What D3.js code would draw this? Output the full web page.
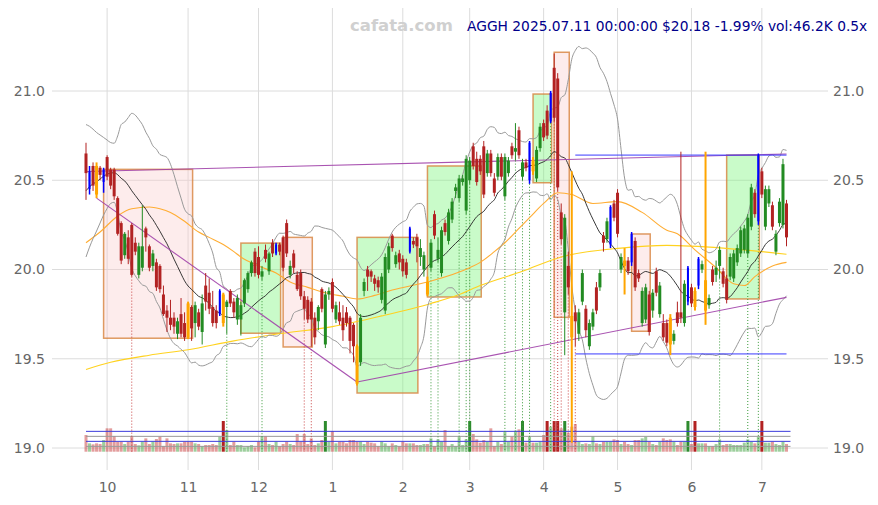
<!DOCTYPE html>
<html><head><meta charset="utf-8">
<script src="https://cdn.jsdelivr.net/npm/d3@7"></script>
<style>body{margin:0;background:#fff}svg{display:block}</style>
</head><body>
<svg id="c" width="878" height="505"></svg>
<script>
// ---------------- DATA ----------------
const startDate = "2024-09-23";
const holidays = ["2024-11-28","2024-12-25","2025-01-01","2025-01-09","2025-01-20","2025-02-17","2025-04-18","2025-05-26","2025-06-19","2025-07-04"];
const monthLabels = ["10","11","12","1","2","3","4","5","6","7"];
const priceTicks = [19.0, 19.5, 20.0, 20.5, 21.0];

const open = [
20.65,20.45,20.58,20.58,20.57,20.49,20.63,20.56,20.56,20.40,
20.26,20.08,20.18,20.25,20.15,19.97,20.01,20.23,20.13,20.02,
20.04,20.02,19.86,19.77,19.73,19.73,19.64,19.75,19.70,19.81,
19.79,19.70,19.76,19.65,19.91,19.87,19.79,19.77,19.75,19.86,
19.79,19.88,19.82,19.72,19.72,19.81,19.89,19.98,20.10,20.07,
19.96,20.11,19.99,20.15,20.09,20.14,20.18,20.26,19.97,20.09,
19.97,19.98,19.85,19.83,19.82,19.73,19.71,19.89,19.58,19.86,
19.93,19.72,19.76,19.73,19.76,19.73,19.69,19.57,19.48,19.88,
20.00,19.99,19.95,19.94,19.83,19.77,20.00,20.19,20.03,20.09,
20.06,20.04,20.10,20.16,20.18,20.07,20.00,19.93,20.01,20.31,
20.06,19.98,20.26,20.16,20.28,20.44,20.40,20.49,20.33,20.50,
20.69,20.62,20.62,20.69,20.54,20.65,20.51,20.52,20.63,20.41,
20.54,20.69,20.66,20.78,20.52,20.60,20.50,20.61,20.51,20.68,
20.82,20.89,20.83,21.13,21.07,20.32,19.76,20.02,19.74,19.76,
19.64,19.82,19.78,19.57,19.68,19.90,19.90,20.19,20.17,20.14,
20.37,20.43,20.00,20.05,20.05,20.04,20.16,19.98,19.70,19.72,
19.86,19.77,19.99,19.75,19.70,19.70,19.73,19.60,19.76,19.76,
19.70,19.82,19.90,19.88,19.91,20.00,19.94,19.80,20.00,19.97,
20.02,19.99,19.95,19.96,19.95,20.04,20.09,20.11,20.09,20.24,
20.43,20.27,20.55,20.24,20.37,20.36,20.10,20.26,20.25,20.37];
const high = [
20.71,20.58,20.60,20.60,20.58,20.57,20.64,20.57,20.57,20.41,
20.27,20.21,20.22,20.26,20.18,20.15,20.36,20.24,20.14,20.11,
20.06,20.03,19.91,19.80,19.83,19.76,19.73,19.84,19.76,19.82,
19.80,19.82,19.78,19.86,19.98,19.95,19.88,19.80,19.89,19.87,
19.83,19.89,19.84,19.86,19.82,19.95,19.99,20.05,20.12,20.13,
20.02,20.14,20.10,20.17,20.15,20.15,20.19,20.28,20.05,20.11,
19.99,20.00,19.88,19.85,19.84,19.76,19.80,19.90,19.88,19.90,
19.95,19.82,19.82,19.80,19.79,19.74,19.70,19.58,19.75,19.95,
20.02,20.00,19.97,19.96,19.98,20.09,20.15,20.20,20.10,20.11,
20.08,20.06,20.24,20.18,20.20,20.17,20.10,19.96,20.17,20.33,
20.18,20.24,20.28,20.34,20.40,20.48,20.53,20.53,20.64,20.63,
20.71,20.66,20.64,20.72,20.67,20.67,20.54,20.65,20.65,20.65,
20.63,20.71,20.82,20.80,20.62,20.62,20.72,20.63,20.69,20.82,
20.84,20.92,21.00,21.21,21.10,20.37,20.31,20.10,20.55,19.80,
19.78,20.00,19.80,19.72,19.78,19.93,20.00,20.21,20.29,20.36,
20.39,20.45,20.09,20.12,20.07,20.21,20.18,20.00,19.90,19.92,
19.88,19.89,20.01,19.93,19.75,19.72,19.75,19.66,19.82,20.66,
19.94,20.02,19.92,19.90,20.07,20.05,20.66,19.86,20.02,20.05,
20.13,20.01,19.97,20.09,20.11,20.14,20.24,20.25,20.31,20.48,
20.45,20.65,20.57,20.47,20.47,20.38,20.22,20.40,20.62,20.39];
const low = [
20.39,20.42,20.44,20.40,20.50,20.43,20.50,20.45,20.39,20.19,
20.03,20.06,20.03,19.96,20.08,19.95,19.99,20.10,19.99,19.99,
19.88,19.87,19.74,19.65,19.66,19.64,19.61,19.62,19.60,19.61,
19.60,19.62,19.66,19.58,19.77,19.75,19.68,19.67,19.74,19.68,
19.64,19.79,19.73,19.69,19.63,19.79,19.87,19.96,19.96,19.95,
19.94,20.04,19.97,20.07,20.08,20.08,19.99,20.07,19.95,19.98,
19.88,19.83,19.72,19.70,19.57,19.58,19.66,19.76,19.56,19.83,
19.76,19.70,19.69,19.60,19.68,19.53,19.48,19.35,19.46,19.85,
19.88,19.93,19.88,19.87,19.81,19.75,19.98,20.10,20.01,20.00,
19.96,19.95,20.09,20.12,20.04,20.02,19.96,19.85,19.99,20.17,
20.04,19.96,20.19,20.14,20.26,20.40,20.38,20.47,20.31,20.48,
20.56,20.47,20.53,20.40,20.52,20.52,20.41,20.50,20.50,20.39,
20.52,20.62,20.61,20.62,20.50,20.55,20.48,20.53,20.49,20.66,
20.72,20.73,20.82,20.83,20.44,20.14,19.52,19.86,19.03,19.57,
19.60,19.80,19.62,19.55,19.66,19.75,19.88,20.10,20.15,20.12,
20.27,20.18,19.98,19.86,19.97,20.02,19.88,19.93,19.68,19.70,
19.63,19.73,19.85,19.73,19.60,19.57,19.52,19.58,19.68,19.70,
19.68,19.80,19.79,19.77,19.89,19.98,19.69,19.78,19.91,19.93,
19.95,19.90,19.81,19.94,19.93,20.02,20.07,20.09,20.07,20.22,
20.29,20.25,20.40,20.22,20.35,20.22,20.08,20.24,20.23,20.13];
const close = [
20.54,20.55,20.47,20.42,20.53,20.56,20.52,20.47,20.41,20.20,
20.05,20.20,20.06,19.97,20.10,20.13,20.13,20.18,20.01,20.09,
19.90,19.89,19.75,19.73,19.69,19.68,19.71,19.64,19.62,19.62,
19.67,19.80,19.68,19.81,19.82,19.78,19.70,19.70,19.88,19.70,
19.82,19.81,19.76,19.84,19.80,19.94,19.98,20.04,19.98,19.97,
19.99,20.06,20.09,20.09,20.14,20.10,20.01,20.09,20.02,20.01,
19.89,19.85,19.78,19.72,19.72,19.62,19.79,19.78,19.86,19.88,
19.78,19.80,19.71,19.66,19.70,19.60,19.57,19.36,19.73,19.93,
19.96,19.96,19.92,19.90,19.96,20.07,20.13,20.12,20.08,20.04,
19.99,19.97,20.23,20.14,20.13,20.12,20.08,19.86,20.15,20.19,
20.11,20.22,20.21,20.32,20.38,20.46,20.51,20.51,20.62,20.61,
20.58,20.49,20.55,20.42,20.65,20.54,20.43,20.63,20.52,20.63,
20.61,20.64,20.68,20.64,20.60,20.57,20.71,20.55,20.67,20.80,
20.74,20.75,20.99,20.85,20.46,20.17,20.29,19.90,19.62,19.71,
19.76,19.98,19.66,19.70,19.76,19.77,19.98,20.15,20.27,20.35,
20.29,20.20,20.07,20.02,19.99,20.20,19.90,19.95,19.88,19.90,
19.65,19.87,19.87,19.91,19.62,19.59,19.58,19.64,19.70,19.73,
19.92,20.01,19.81,19.79,20.06,20.03,19.77,19.84,19.93,20.01,
20.11,19.92,19.83,20.07,20.09,20.12,20.22,20.23,20.29,20.46,
20.31,20.64,20.42,20.45,20.45,20.24,20.20,20.38,20.59,20.18];
// volume in thousands
const volume = [
100,50,44,50,46,70,140,140,94,60,
60,46,60,94,46,38,60,80,46,60,
76,90,34,80,50,46,50,50,60,60,
60,50,46,34,40,40,46,40,90,230,
130,40,60,40,40,26,34,40,26,60,
94,94,46,40,60,34,46,60,46,40,
106,60,106,46,80,40,50,70,250,60,
124,50,60,60,50,70,70,60,60,46,
60,54,50,34,60,50,34,50,40,34,
60,50,50,50,40,40,46,46,80,34,
74,60,130,34,46,34,90,40,74,215,
106,74,54,70,60,140,34,60,46,120,
60,90,126,134,240,54,90,54,54,60,
100,220,150,260,310,140,280,114,150,166,
60,46,50,46,94,50,46,60,60,60,
74,70,46,60,46,40,70,70,80,90,
60,46,40,60,80,70,74,60,40,60,
60,200,46,230,50,50,50,34,34,46,
74,40,46,46,40,40,40,54,74,60,
50,90,210,54,54,60,46,40,60,46.2];
// closes of the 19 sessions before the first bar (for the 20-day band)
const priorClose = [20.10,20.15,20.18,20.22,20.25,20.30,20.33,20.38,20.42,20.45,20.50,20.55,20.58,20.62,20.66,20.64,20.68,20.65,20.62];
// 50-day and 200-day averages [bar index, value]
const ma50 = [[0,20.15],[4,20.21],[9,20.30],[13,20.34],[18,20.35],[21,20.34],[24,20.32],[28,20.27],[32,20.21],[35,20.18],[39,20.14],[42,20.10],[44,20.07],[49,20.02],[54,19.98],[58,19.93],[63,19.90],[68,19.87],[73,19.85],[77,19.835],[82,19.855],[87,19.885],[97,19.93],[109,20.01],[112,20.04],[116,20.10],[119,20.15],[123,20.23],[126,20.29],[130,20.37],[134,20.43],[138,20.42],[144,20.37],[151,20.38],[158,20.32],[165,20.22],[168,20.20],[173,20.11],[179,20.01],[184,19.92],[187,19.91],[190,19.96],[195,20.02],[199,20.04]];
const ma200 = [[0,19.44],[7,19.48],[18,19.52],[29,19.55],[42,19.60],[55,19.64],[70,19.68],[84,19.74],[98,19.81],[106,19.86],[112,19.91],[124,19.99],[135,20.07],[152,20.12],[165,20.135],[181,20.12],[199,20.085]];
const breakoutBars = [1,5,38,54,92,126,132,149,155,171,174,191];
const reversalBars = [3,29,39,77,97,127,138,153,166,173,176];
const buySignals = [40,50,98,100,106,108,109,119,122,124,126,132,180,188,191];
const sellSignals = [13,62,64,133,134,135,137,139];
// consolidation boxes: [first bar, last bar, top, bottom, direction]
const boxes = [[5,30,20.561,19.615,"down"],[44,55,20.148,19.643,"up"],[56,64,20.18,19.566,"down"],[77,94,20.18,19.308,"up"],[97,112,20.58,19.846,"up"],[127,132,20.983,20.486,"up"],[133,137,21.217,19.732,"down"],[155,160,20.199,19.654,"down"],[182,191,20.641,19.835,"up"]];
// trend lines: [bar a, value a, bar b, value b]
const trendLines = [[0,20.549,199,20.647],[3,20.40,77,19.37],[77,19.37,199,19.844]];
// support / resistance levels: [from bar, to bar, value]
const levels = [[139,199,20.641],[139,199,19.527]];
// volume reference levels (K)
const volLevels = [122,92,62,32];
const titleText = "AGGH 2025.07.11 00:00:00 $20.18 -1.99% vol:46.2K 0.5x";
const watermark = "cafata.com";

// ---------------- CHART ----------------
const svg = d3.select("#c");
const n = close.length;
const dates = [];
{ let d = new Date(startDate+"T00:00:00Z");
  while (dates.length < n) { const dw = d.getUTCDay(), s = d.toISOString().slice(0,10);
    if (dw>0 && dw<6 && !holidays.includes(s)) dates.push(s);
    d.setUTCDate(d.getUTCDate()+1); } }
const tickIdx = [];
dates.forEach((s,i)=>{ if(i>0 && s.slice(5,7)!==dates[i-1].slice(5,7)) tickIdx.push(i); });

const x = d3.scaleLinear().domain([0,n-1]).range([86,786.5]);
const y = d3.scaleLinear().domain([19,21]).range([448,91]);
const yv = d3.scaleLinear().domain([0,184]).range([451.7,421]).clamp(true);

const font = "DejaVu Sans, sans-serif";
// grid
const g = svg.append("g");
g.selectAll("line.h").data(priceTicks).join("line")
  .attr("x1",52).attr("x2",828).attr("y1",d=>y(d)).attr("y2",d=>y(d))
  .attr("stroke","#dcdcdc").attr("stroke-width",1);
g.selectAll("line.v").data(tickIdx).join("line")
  .attr("x1",d=>x(d)).attr("x2",d=>x(d)).attr("y1",8).attr("y2",470)
  .attr("stroke","#dcdcdc").attr("stroke-width",1);

// axes
const axL = svg.append("g").attr("transform","translate(47,0)")
  .call(d3.axisLeft(y).tickValues(priceTicks).tickFormat(d3.format(".1f")).tickSize(0).tickPadding(2));
const axR = svg.append("g").attr("transform","translate(831,0)")
  .call(d3.axisRight(y).tickValues(priceTicks).tickFormat(d3.format(".1f")).tickSize(0).tickPadding(2));
const axB = svg.append("g").attr("transform","translate(0,480)")
  .call(d3.axisBottom(x).tickValues(tickIdx).tickFormat((d,i)=>monthLabels[i]).tickSize(0).tickPadding(2));
[axL,axR,axB].forEach(a=>{ a.select(".domain").remove();
  a.selectAll("text").attr("fill","#666").style("font-family",font).style("font-size","14px"); });

// boxes
svg.append("g").selectAll("rect").data(boxes).join("rect")
  .attr("x",d=>x(d[0])).attr("width",d=>x(d[1])-x(d[0])+1)
  .attr("y",d=>y(d[2])).attr("height",d=>y(d[3])-y(d[2]))
  .attr("fill",d=>d[4]==="up"?"rgba(120,245,120,0.4)":"rgba(250,200,200,0.35)")
  .attr("stroke","rgba(215,130,60,0.8)").attr("stroke-width",1.5);

// volume
const gv = svg.append("g");
gv.selectAll("rect").data(volume).join("rect")
  .attr("x",(d,i)=>x(i)-1.5).attr("width",3)
  .attr("y",d=>yv(d)).attr("height",d=>yv(0)-yv(d))
  .attr("fill",(d,i)=>{ const up = close[i]>=open[i]; const big = d>184;
     return up ? (big?"#2e8b2e":"rgba(60,160,60,0.5)") : (big?"#b22222":"rgba(200,60,60,0.5)"); });
gv.selectAll("line").data(volLevels).join("line")
  .attr("x1",x(0)).attr("x2",x(n-1)+4).attr("y1",d=>yv(d)).attr("y2",d=>yv(d))
  .attr("stroke",(d,i)=>i%2===0?"#3c3cdc":"#999").attr("stroke-width",1);

// signal lines
const gs = svg.append("g");
gs.selectAll("line.b").data(buySignals).join("line")
  .attr("x1",d=>x(d)).attr("x2",d=>x(d)).attr("y1",d=>y(low[d])).attr("y2",yv(0))
  .attr("stroke","#3a9a3a").attr("stroke-width",1).attr("stroke-dasharray","1,2");
gs.selectAll("line.s").data(sellSignals).join("line")
  .attr("x1",d=>x(d)).attr("x2",d=>x(d)).attr("y1",d=>y(low[d])).attr("y2",yv(0))
  .attr("stroke","#c84040").attr("stroke-width",1).attr("stroke-dasharray","1,2");

// indicators
const all = priorClose.concat(close);
const mid=[], up=[], dn=[];
for (let i=0;i<n;i++){ const w = all.slice(i, i+20); const m=d3.mean(w);
  const sd=Math.sqrt(d3.mean(w,v=>(v-m)*(v-m))); mid.push(m); up.push(m+2*sd); dn.push(m-2*sd); }
const line = d3.line().x((d,i)=>x(i)).y(d=>y(d)).curve(d3.curveMonotoneX);
const lineP = d3.line().x(d=>x(d[0])).y(d=>y(d[1])).curve(d3.curveMonotoneX);
svg.append("path").attr("d",lineP(ma200)).attr("fill","none").attr("stroke","#ffd21f").attr("stroke-width",1.1);
svg.append("path").attr("d",lineP(ma50)).attr("fill","none").attr("stroke","#ffad33").attr("stroke-width",1.1);
svg.append("path").attr("d",line(up)).attr("fill","none").attr("stroke","#999").attr("stroke-width",1);
svg.append("path").attr("d",line(dn)).attr("fill","none").attr("stroke","#999").attr("stroke-width",1);
svg.append("path").attr("d",line(mid)).attr("fill","none").attr("stroke","#222").attr("stroke-width",0.9);

// trend lines & levels
svg.append("g").selectAll("line").data(trendLines).join("line")
  .attr("x1",d=>x(d[0])).attr("y1",d=>y(d[1])).attr("x2",d=>x(d[2])).attr("y2",d=>y(d[3]))
  .attr("stroke","#a040a8").attr("stroke-width",1.1).attr("stroke-opacity",0.9);
svg.append("g").selectAll("line").data(levels).join("line")
  .attr("x1",d=>x(d[0])).attr("x2",d=>x(d[1])).attr("y1",d=>y(d[2])).attr("y2",d=>y(d[2]))
  .attr("stroke","#3a3aff").attr("stroke-width",1);

// candles
const kind = i => breakoutBars.includes(i)?"b":reversalBars.includes(i)?"o":(close[i]>=open[i]?"u":"d");
const col = {b:"#0000ff",o:"#ffa500",u:"#228b22",d:"#b22222"};
const gc = svg.append("g");
const idx = d3.range(n);
gc.selectAll("line").data(idx).join("line")
  .attr("x1",i=>x(i)).attr("x2",i=>x(i)).attr("y1",i=>y(high[i])).attr("y2",i=>y(low[i]))
  .attr("stroke",i=>col[kind(i)]).attr("stroke-width",i=>kind(i)==="o"?2:kind(i)==="b"?1.5:1);
gc.selectAll("rect").data(idx).join("rect")
  .attr("x",i=>x(i)-(kind(i)==="b"?1:1.5)).attr("width",i=>kind(i)==="b"?2:3)
  .attr("y",i=>y(Math.max(open[i],close[i])))
  .attr("height",i=>Math.max(1,Math.abs(y(open[i])-y(close[i]))))
  .attr("fill",i=>col[kind(i)]);

// texts
svg.append("text").attr("x",350).attr("y",31).text(watermark)
  .style("font-family",font).style("font-size","16.5px").style("font-weight","bold").attr("fill","#d0d0d0");
svg.append("text").attr("x",467).attr("y",31).text(titleText)
  .style("font-family",font).style("font-size","13.8px").attr("fill","#00008b");
</script>
</body></html>
